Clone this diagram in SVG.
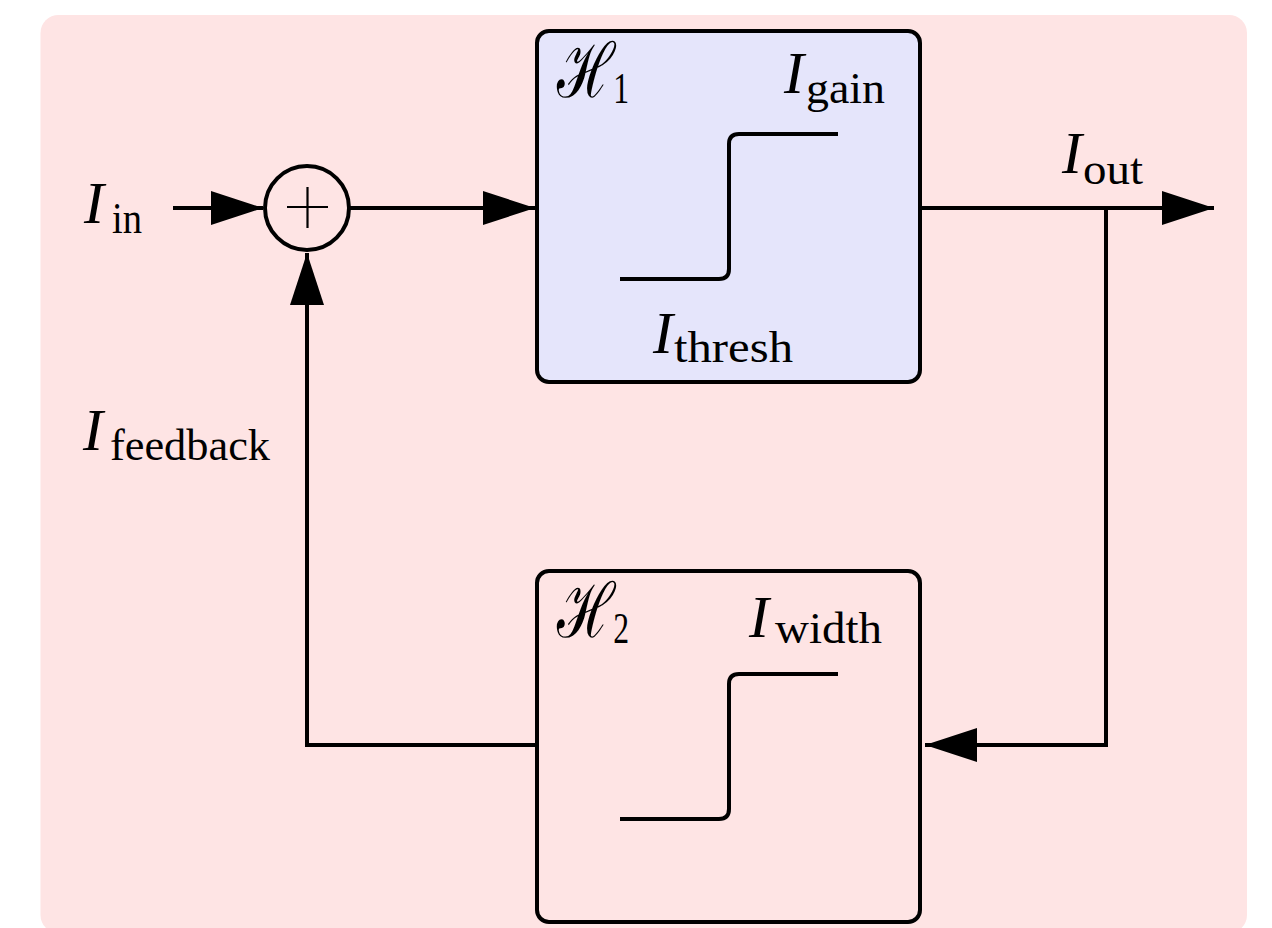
<svg xmlns="http://www.w3.org/2000/svg" width="1272" height="928" viewBox="0 0 1272 928">
  <defs>
    <style>
      .box { stroke: #000; stroke-width: 4; }
      .wire { fill: none; stroke: #000; stroke-width: 4; }
      .step { fill: none; stroke: #000; stroke-width: 4; }
      .I { font-family: "Liberation Serif", "Times New Roman", serif; font-style: italic; font-size: 60px; fill: #000; }
      .sub { font-family: "Liberation Serif", "Times New Roman", serif; font-style: normal; font-size: 44px; fill: #000; }
      .H { font-family: "Noto Serif", serif; font-style: normal; font-size: 76px; fill: #000; }
    </style>
    <marker id="arr" markerUnits="userSpaceOnUse" markerWidth="52" markerHeight="34" refX="52" refY="17" orient="auto" viewBox="0 0 52 34">
      <path d="M0,0 L52,17 L0,34 Z" fill="#000"/>
    </marker>
  </defs>

  <rect id="background" x="40.5" y="15" width="1206.5" height="918" rx="18" fill="#fee4e4"/>

  <g id="connectors">
    <path class="wire" d="M173,208 H263" marker-end="url(#arr)"/>
    <path class="wire" d="M350,208 H535" marker-end="url(#arr)"/>
    <path class="wire" d="M921,208 H1214" marker-end="url(#arr)"/>
    <path class="wire" d="M1106,208 V745 H925" marker-end="url(#arr)"/>
    <path class="wire" d="M537,745 H307 V253" marker-end="url(#arr)"/>
  </g>

  <g id="sum">
    <circle cx="307" cy="208" r="42" fill="none" stroke="#000" stroke-width="4"/>
    <path d="M287,207 H328 M307.5,187 V228" stroke="#000" stroke-width="2.2" fill="none"/>
  </g>

  <g id="label-in">
    <text class="I" x="84" y="223">I</text>
    <text class="sub" x="112" y="233" textLength="30" lengthAdjust="spacingAndGlyphs">in</text>
  </g>

  <g id="label-out">
    <text class="I" x="1062" y="173">I</text>
    <text class="sub" x="1083" y="184" textLength="60" lengthAdjust="spacingAndGlyphs">out</text>
  </g>

  <g id="label-feedback">
    <text class="I" x="83" y="450">I</text>
    <text class="sub" x="110" y="460" textLength="160" lengthAdjust="spacingAndGlyphs">feedback</text>
  </g>

  <g id="H1">
    <rect class="box" x="537" y="31" width="383" height="351" rx="12" fill="#e5e5fb"/>
    <text transform="translate(557,97) scale(0.72,1)"><tspan class="H" x="0" y="0">ℋ</tspan><tspan class="sub" x="78" y="6">1</tspan></text>
    <text class="I" x="784" y="93">I</text>
    <text class="sub" x="806" y="103" textLength="79" lengthAdjust="spacingAndGlyphs">gain</text>
    <path class="step" d="M620,279 H719 Q729,279 729,269 V144 Q729,134 739,134 H838"/>
    <text class="I" x="653" y="353">I</text>
    <text class="sub" x="674" y="362" textLength="119" lengthAdjust="spacingAndGlyphs">thresh</text>
  </g>

  <g id="H2">
    <rect class="box" x="537" y="571" width="383" height="351" rx="12" fill="none"/>
    <text transform="translate(557,637) scale(0.72,1)"><tspan class="H" x="0" y="0">ℋ</tspan><tspan class="sub" x="78" y="6">2</tspan></text>
    <text class="I" x="749" y="637">I</text>
    <text class="sub" x="775" y="643" textLength="107" lengthAdjust="spacingAndGlyphs">width</text>
    <path class="step" d="M620,819 H719 Q729,819 729,809 V684 Q729,674 739,674 H838"/>
  </g>
</svg>
